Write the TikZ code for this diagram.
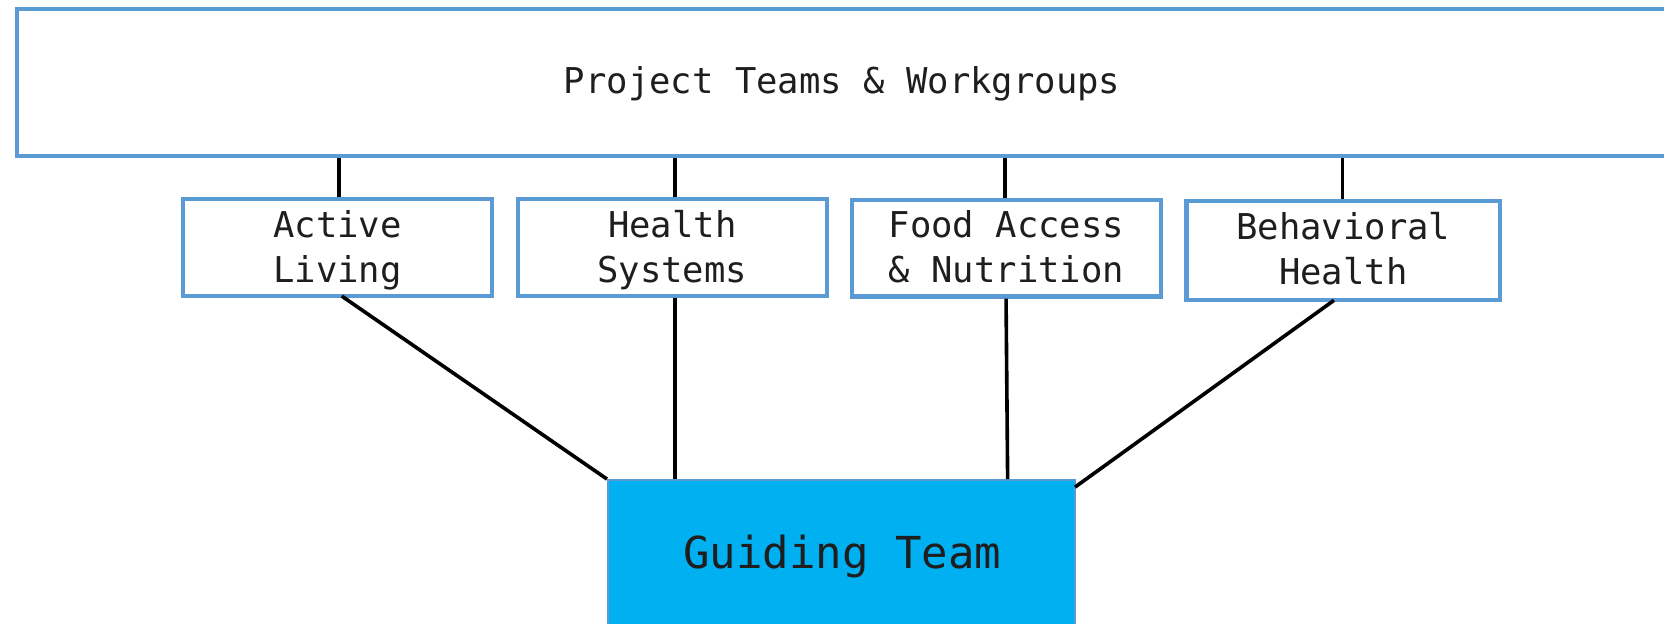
\documentclass[tikz,border=0pt]{standalone}
\usepackage{fontspec}
\setmonofont{DejaVu Sans Mono}
\begin{document}
\begin{tikzpicture}[x=1pt,y=-1pt,
  frame/.style={draw=boxblue,line width=4pt,fill=white,inner sep=0pt},
  sub/.style={frame,minimum width=291pt,minimum height=91pt,align=center,
    text=textgray,font=\ttfamily\fontsize{33.5}{42}\selectfont},
  subtext/.style={inner sep=0pt,align=center,text=textgray,font=\ttfamily\fontsize{33.5}{42}\selectfont},
  link/.style={draw=black,line width=3.4pt},
  lbl/.style={inner sep=0pt,anchor=base,text=textgray,font=\ttfamily\fontsize{33.5}{42}\selectfont}]
\definecolor{boxblue}{HTML}{5B9BD5}
\definecolor{guide}{HTML}{00B0F0}
\definecolor{textgray}{HTML}{1E1E1E}
\useasboundingbox (0,0) rectangle (1568,588);
\clip (0,0) rectangle (1568,588);
\fill[white] (0,0) rectangle (1568,588);
% top box
\node[frame,minimum width=1600pt,minimum height=139pt,anchor=north west] (top) at (14.2,6.3) {};
\node[lbl] (toptext) at (793.5,88) {Project Teams \& Workgroups};
% sub boxes
\node[sub] (active) at (318,233.2) {};
\node[sub] (health) at (633.5,233.2) {};
\node[sub] (food) at (948.4,233.8) {};
\node[sub,minimum width=295.5pt,minimum height=93.3pt] (behav) at (1265.8,236) {};
\node[subtext] (activet) at (318,236.5) {Active\strut\\Living\strut};
\node[subtext] (healtht) at (633.5,236.5) {Health\strut\\Systems\strut};
\node[subtext] (foodt) at (948.4,236.5) {Food Access\strut\\\& Nutrition\strut};
\node[subtext] (behavt) at (1265.8,238.5) {Behavioral\strut\\Health\strut};
% guiding team
\node[draw=boxblue,line width=1.8pt,fill=guide,minimum width=440pt,minimum height=200pt,anchor=north,inner sep=0pt] (guiding) at (792.8,451.4) {};
\node[lbl,font=\ttfamily\fontsize{41.5}{50}\selectfont] (guidetext) at (793.5,535.5) {Guiding Team};
% connectors from top box
\foreach \x/\b in {319.5/active,636/health,947/food,1265/behav}
  \draw[link] (\x,0 |- top.south) -- (\x,0 |- \b.north);
% connectors to guiding team
\coordinate (hA) at (322,279);
\coordinate (hD) at (1257,283);
\coordinate (gR) at (1013,459);
\draw[link] (hA) -- (guiding.north west);
\draw[link] (636,0 |- health.south) -- (636,0 |- guiding.north);
\draw[link] (948,0 |- food.south) -- (949.5,0 |- guiding.north);
\draw[link] (hD) -- (gR);
\end{tikzpicture}
\end{document}
